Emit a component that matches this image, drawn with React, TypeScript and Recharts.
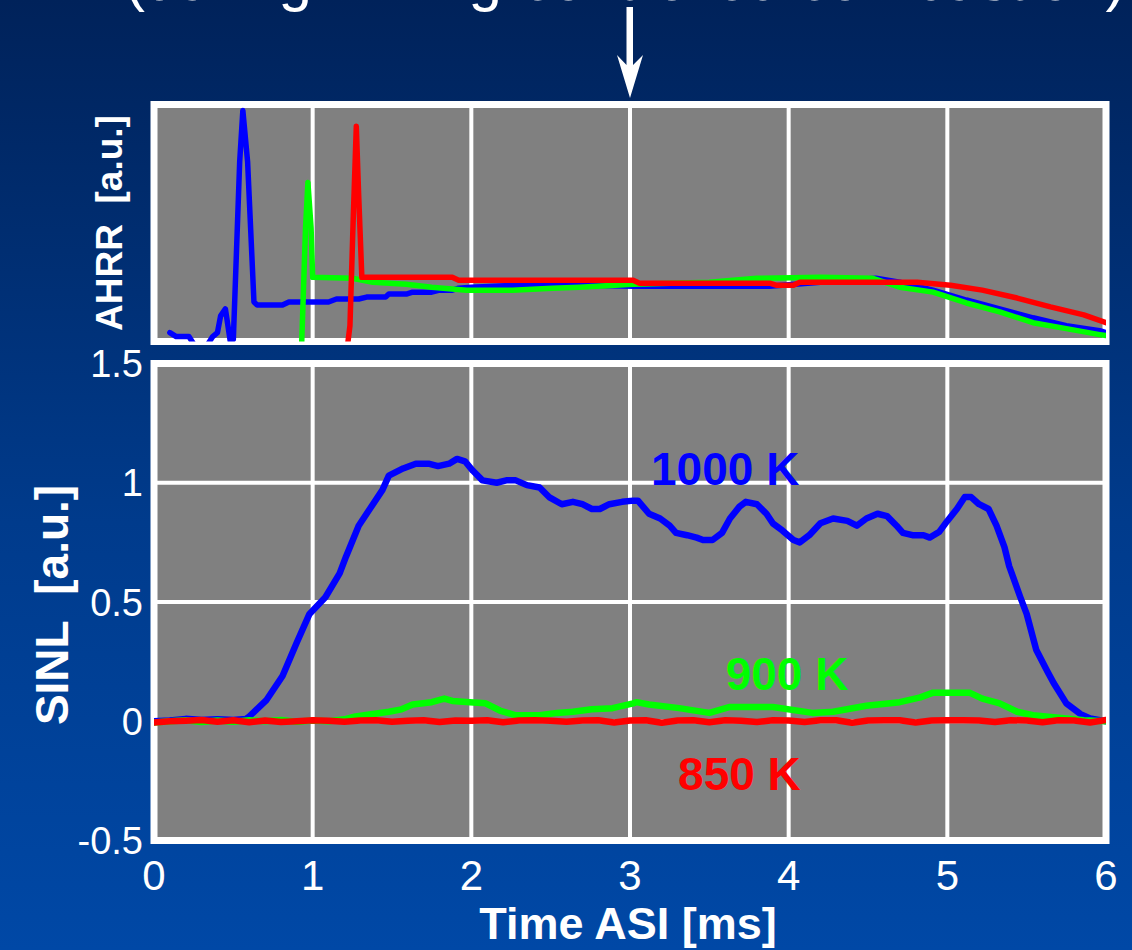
import React from 'react';
import { LineChart, Line, XAxis, YAxis, CartesianGrid, ReferenceArea, ReferenceDot } from 'recharts';

const FONT = '"Liberation Sans", Arial, Helvetica, sans-serif';

// ---- axis ticks ----
const xTicks = [0, 1, 2, 3, 4, 5, 6];
const sinlTicks = [-0.5, 0, 0.5, 1, 1.5];
const ahrrTicks = [0, 1, 2];
const xDomain = [0, 6];
const sinlDomain = [-0.5, 1.5];
const ahrrDomain = [0, 2.4];

// ---- series names / colours ----
const seriesNames = ['1000 K', '900 K', '850 K'];
const seriesColors = ['#0000ff', '#00ff00', '#ff0000'];

// ---- AHRR (top panel) ----
const ahrr1000T = [0.1, 0.14, 0.22, 0.26, 0.33, 0.37, 0.4, 0.42, 0.45, 0.48, 0.5, 0.54, 0.56, 0.59, 0.63, 0.65, 0.81, 0.85, 1.1, 1.15, 1.29, 1.34, 1.46, 1.48, 1.59, 1.63, 1.75, 1.8, 1.88, 1.92, 2.0, 2.28, 2.49, 3.02, 3.5, 3.88, 4.2, 4.55, 4.7, 4.91, 5.12, 5.33, 5.54, 5.75, 5.96, 6.0];
const ahrr1000V = [0.09, 0.05, 0.05, -0.05, -0.05, 0.05, 0.09, 0.26, 0.33, 0.01, 0.02, 1.82, 2.34, 1.82, 0.4, 0.37, 0.37, 0.4, 0.4, 0.43, 0.43, 0.45, 0.45, 0.48, 0.48, 0.5, 0.5, 0.52, 0.52, 0.54, 0.55, 0.57, 0.58, 0.56, 0.56, 0.56, 0.6, 0.64, 0.6, 0.52, 0.42, 0.33, 0.24, 0.16, 0.11, 0.09];

const ahrr900T = [0.925, 0.955, 0.97, 0.99, 1.0, 1.25, 1.38, 1.59, 1.75, 1.97, 2.26, 2.51, 2.68, 3.02, 3.5, 3.8, 4.2, 4.53, 4.7, 4.91, 5.12, 5.33, 5.54, 5.75, 5.96, 6.0];
const ahrr900V = [-0.3, 1.15, 1.61, 1.15, 0.65, 0.64, 0.6, 0.58, 0.55, 0.52, 0.52, 0.54, 0.55, 0.58, 0.6, 0.64, 0.65, 0.64, 0.55, 0.5, 0.39, 0.3, 0.19, 0.13, 0.07, 0.06];

const ahrr850T = [1.2, 1.235, 1.255, 1.275, 1.29, 1.31, 1.88, 1.92, 3.02, 3.06, 3.88, 3.92, 4.03, 4.07, 4.81, 5.02, 5.22, 5.44, 5.65, 5.86, 6.0];
const ahrr850V = [-0.3, 0.16, 1.21, 2.18, 1.48, 0.65, 0.65, 0.62, 0.62, 0.59, 0.59, 0.57, 0.57, 0.6, 0.6, 0.57, 0.52, 0.44, 0.35, 0.27, 0.19];

// ---- SINL (bottom panel) ----
const sinl1000T = [0, 0.1, 0.2, 0.3, 0.4, 0.5, 0.58, 0.6, 0.71, 0.81, 0.9, 0.98, 1.08, 1.17, 1.21, 1.29, 1.36, 1.44, 1.48, 1.57, 1.65, 1.73, 1.79, 1.86, 1.91, 1.96, 2.01, 2.07, 2.16, 2.22, 2.28, 2.35, 2.43, 2.49, 2.57, 2.64, 2.7, 2.76, 2.81, 2.87, 2.95, 3.02, 3.05, 3.12, 3.19, 3.25, 3.29, 3.36, 3.42, 3.46, 3.52, 3.58, 3.63, 3.69, 3.73, 3.8, 3.86, 3.9, 3.96, 4.03, 4.07, 4.13, 4.2, 4.28, 4.37, 4.43, 4.49, 4.56, 4.62, 4.68, 4.72, 4.78, 4.85, 4.89, 4.95, 5.0, 5.06, 5.11, 5.15, 5.2, 5.26, 5.31, 5.36, 5.39, 5.46, 5.5, 5.56, 5.63, 5.67, 5.75, 5.84, 5.9, 6.0];
const sinl1000V = [0.0, 0.003, 0.01, 0.005, 0.008, 0.005, 0.01, 0.02, 0.09, 0.19, 0.33, 0.45, 0.52, 0.62, 0.69, 0.82, 0.89, 0.97, 1.03, 1.06, 1.08, 1.08, 1.07, 1.08, 1.1, 1.09, 1.05, 1.01, 1.0, 1.01, 1.01, 0.99, 0.98, 0.94, 0.91, 0.92, 0.91, 0.89, 0.89, 0.91, 0.92, 0.925, 0.925, 0.87, 0.85, 0.82, 0.79, 0.78, 0.77, 0.76, 0.76, 0.79, 0.85, 0.9, 0.92, 0.91, 0.87, 0.83, 0.8, 0.76, 0.75, 0.78, 0.83, 0.85, 0.84, 0.82, 0.85, 0.87, 0.86, 0.82, 0.79, 0.78, 0.78, 0.77, 0.795, 0.84, 0.89, 0.94, 0.94, 0.91, 0.89, 0.82, 0.73, 0.65, 0.52, 0.45, 0.3, 0.21, 0.16, 0.075, 0.03, 0.012, 0.0];

const sinl900T = [0, 0.1, 0.2, 0.3, 0.4, 0.5, 0.6, 0.7, 0.8, 0.9, 1.0, 1.1, 1.2, 1.27, 1.38, 1.48, 1.56, 1.63, 1.75, 1.83, 1.88, 1.99, 2.09, 2.18, 2.28, 2.43, 2.54, 2.64, 2.76, 2.89, 3.02, 3.04, 3.12, 3.31, 3.5, 3.63, 3.9, 4.15, 4.28, 4.49, 4.7, 4.83, 4.91, 5.14, 5.22, 5.33, 5.44, 5.54, 5.67, 5.86, 6.0];
const sinl900V = [-0.005, 0.0, 0.004, -0.003, 0.003, -0.002, 0.004, 0.0, 0.005, -0.002, 0.003, 0.0, 0.008, 0.02, 0.03, 0.04, 0.05, 0.07, 0.08, 0.095, 0.085, 0.08, 0.075, 0.045, 0.025, 0.025, 0.035, 0.04, 0.05, 0.055, 0.075, 0.08, 0.07, 0.055, 0.035, 0.06, 0.06, 0.035, 0.04, 0.065, 0.08, 0.1, 0.12, 0.12, 0.095, 0.075, 0.04, 0.025, 0.017, 0.004, 0.0];

const sinl850T = [0, 0.1, 0.2, 0.3, 0.4, 0.5, 0.6, 0.7, 0.8, 0.9, 1.0, 1.1, 1.2, 1.3, 1.4, 1.5, 1.6, 1.7, 1.8, 1.9, 2.0, 2.1, 2.2, 2.3, 2.4, 2.5, 2.6, 2.7, 2.8, 2.9, 3.0, 3.1, 3.2, 3.3, 3.4, 3.5, 3.6, 3.7, 3.8, 3.9, 4.0, 4.1, 4.2, 4.3, 4.4, 4.5, 4.6, 4.7, 4.8, 4.9, 5.0, 5.1, 5.2, 5.3, 5.4, 5.5, 5.6, 5.7, 5.8, 5.9, 6.0];
const sinl850V = [-0.005, 0.0, 0.002, 0.005, -0.002, 0.004, -0.004, 0.003, -0.003, 0.0, 0.004, 0.002, -0.002, 0.003, 0.004, -0.002, 0.002, 0.004, -0.003, 0.003, 0.002, 0.004, -0.004, 0.003, 0.004, 0.002, -0.002, 0.003, 0.004, -0.005, 0.003, 0.004, -0.006, 0.003, 0.004, -0.004, 0.004, 0.002, -0.003, 0.004, 0.003, -0.003, 0.004, 0.004, -0.006, 0.003, 0.004, 0.004, -0.005, 0.003, 0.004, 0.004, 0.003, -0.003, 0.004, 0.003, -0.004, 0.004, 0.003, -0.005, 0.005];

// ---- label anchors (data coords) ----
const labelT = [3.6, 3.99, 3.69];
const labelV = [1.06, 0.2, -0.22];

const zip = (t: number[], v: number[]) => t.map((x, i) => ({ t: x, v: v[i] }));

const ahrrData = [zip(ahrr1000T, ahrr1000V), zip(ahrr900T, ahrr900V), zip(ahrr850T, ahrr850V)];
const sinlData = [zip(sinl1000T, sinl1000V), zip(sinl900T, sinl900V), zip(sinl850T, sinl850V)];

const XTick = (p: any) => (
  <text x={p.x} y={p.y + 49} textAnchor="middle" fill="#ffffff" fontSize={42} fontFamily={FONT}>
    {p.payload.value}
  </text>
);

const YTick = (p: any) => (
  <text x={p.x - 11} y={p.y + 13.5} textAnchor="end" fill="#ffffff" fontSize={38} fontFamily={FONT}>
    {p.payload.value}
  </text>
);

const AhrrLabel = (p: any) => {
  const vb = p.viewBox;
  const cx = vb.x + vb.width - 32;
  const cy = vb.y + vb.height / 2;
  return (
    <text transform={`translate(${cx},${cy}) rotate(-90)`} textAnchor="middle" fill="#ffffff" fontSize={37} fontWeight="bold" fontFamily={FONT}>
      {'AHRR\u00a0 [a.u.]'}
    </text>
  );
};

const SinlLabel = (p: any) => {
  const vb = p.viewBox;
  const cx = vb.x + vb.width - 86;
  const cy = vb.y + vb.height / 2 + 3;
  return (
    <text transform={`translate(${cx},${cy}) rotate(-90)`} textAnchor="middle" fill="#ffffff" fontSize={46} fontWeight="bold" fontFamily={FONT}>
      {'SINL\u00a0 [a.u.]'}
    </text>
  );
};

const TimeLabel = (p: any) => {
  const vb = p.viewBox;
  return (
    <text x={vb.x + vb.width / 2 - 2} y={vb.y + 98.5} textAnchor="middle" fill="#ffffff" fontSize={45} fontWeight="bold" fontFamily={FONT}>
      Time ASI [ms]
    </text>
  );
};

export default function App() {
  return (
    <div
      style={{
        position: 'absolute',
        left: 0,
        top: 0,
        width: 1132,
        height: 950,
        overflow: 'hidden',
        background: 'linear-gradient(to bottom, #00225a 0%, #003b8c 55%, #0048a6 100%)',
        fontFamily: FONT,
      }}
    >
      {/* title fragment (cut off by the top edge, as in the reference) */}
      <div
        style={{
          position: 'absolute',
          left: 125,
          top: -50,
          fontSize: 60,
          lineHeight: '60px',
          height: 60,
          color: '#ffffff',
          whiteSpace: 'nowrap',
          fontFamily: FONT,
        }}
      >
        (during mixing-controlled combustion)
      </div>

      {/* arrow */}
      <svg width={1132} height={110} style={{ position: 'absolute', left: 0, top: 0 }}>
        <polygon points="626.5,7 633,7 633,65 643,55 630,98 617,55 626.5,65" fill="#ffffff" />
      </svg>

      {/* AHRR panel */}
      <div style={{ position: 'absolute', left: 0, top: 0 }}>
        <LineChart width={1132} height={360} margin={{ top: 104.5, right: 26, bottom: 18.5, left: 0 }}>
          <CartesianGrid fill="#808080" fillOpacity={1} stroke="#ffffff" strokeWidth={4} />
          <XAxis dataKey="t" type="number" domain={xDomain} ticks={xTicks} allowDataOverflow hide />
          <YAxis
            type="number"
            domain={ahrrDomain}
            ticks={ahrrTicks}
            allowDataOverflow
            width={154}
            tick={false}
            tickLine={false}
            axisLine={false}
            label={<AhrrLabel />}
          />
          <ReferenceArea x1={0} x2={6} y1={0} y2={2.4} fill="none" stroke="#ffffff" strokeWidth={7} />
          {ahrrData.map((d, i) => (
            <Line
              key={seriesNames[i]}
              data={d}
              dataKey="v"
              type="linear"
              stroke={seriesColors[i]}
              strokeWidth={5.5}
              strokeLinejoin="round"
              strokeLinecap="round"
              dot={false}
              activeDot={false}
              isAnimationActive={false}
            />
          ))}
        </LineChart>
      </div>

      {/* SINL panel */}
      <div style={{ position: 'absolute', left: 0, top: 0 }}>
        <LineChart width={1132} height={950} margin={{ top: 363.5, right: 26, bottom: 49.5, left: 0 }}>
          <CartesianGrid fill="#808080" fillOpacity={1} stroke="#ffffff" strokeWidth={4} />
          <XAxis
            dataKey="t"
            type="number"
            domain={xDomain}
            ticks={xTicks}
            allowDataOverflow
            height={60}
            tickSize={0}
            tickMargin={0}
            axisLine={false}
            tickLine={false}
            tick={<XTick />}
            label={<TimeLabel />}
          />
          <YAxis
            type="number"
            domain={sinlDomain}
            ticks={sinlTicks}
            allowDataOverflow
            width={154}
            tickSize={0}
            tickMargin={0}
            axisLine={false}
            tickLine={false}
            tick={<YTick />}
            label={<SinlLabel />}
          />
          <ReferenceArea x1={0} x2={6} y1={-0.5} y2={1.5} fill="none" stroke="#ffffff" strokeWidth={7} />
          {sinlData.map((d, i) => (
            <Line
              key={seriesNames[i]}
              data={d}
              dataKey="v"
              type="linear"
              stroke={seriesColors[i]}
              strokeWidth={6.5}
              strokeLinejoin="round"
              strokeLinecap="round"
              dot={false}
              activeDot={false}
              isAnimationActive={false}
            />
          ))}
          {seriesNames.map((name, i) => (
            <ReferenceDot
              key={'lbl' + name}
              x={labelT[i]}
              y={labelV[i]}
              r={0.1}
              fill="none"
              stroke="none"
              label={{ value: name, position: 'center', fill: seriesColors[i], fontSize: 46, fontWeight: 'bold', fontFamily: FONT }}
            />
          ))}
        </LineChart>
      </div>
    </div>
  );
}
